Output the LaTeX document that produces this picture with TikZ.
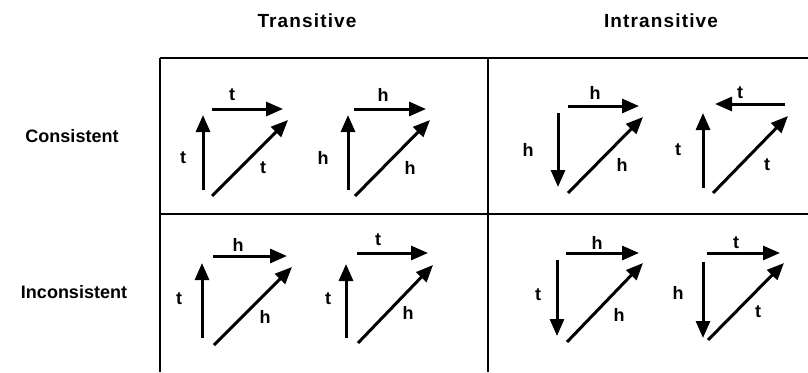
\documentclass[tikz,border=0pt]{standalone}
\usepackage{fontspec}
\setmainfont{Liberation Sans}
\newfontfamily\headfont{Liberation Sans}[LetterSpace=6]
\usetikzlibrary{arrows.meta}
\begin{document}
\begin{tikzpicture}[x=1pt,y=-1pt,
  arr/.style={line width=3pt,-{Triangle[length=17pt,width=14pt]}},
  lbl/.style={font=\bfseries\fontsize{18}{18}\selectfont,inner sep=0pt},
  head/.style={font=\headfont\bfseries\fontsize{19}{19}\selectfont,inner sep=0pt},
  rowlbl/.style={font=\bfseries\fontsize{18}{18}\selectfont,inner sep=0pt},
  gridline/.style={line width=2.3pt}]
\useasboundingbox (0,0) rectangle (808,372);
% table frame
\coordinate (tl) at (160,58);
\coordinate (tr) at (808,58);
\coordinate (ml) at (160,214);
\coordinate (mr) at (808,214);
\coordinate (bl) at (160,372);
\coordinate (tm) at (488,58);
\coordinate (bm) at (488,372);
\draw[gridline] (tl) -- (tr);
\draw[gridline] (ml) -- (mr);
\draw[gridline] (tl) -- (bl);
\draw[gridline] (tm) -- (bm);
% headers
\node[head] (hT) at (307,21) {Transitive};
\node[head] (hI) at (661,21) {Intransitive};
\node[rowlbl] (rC) at (72,136) {Consistent};
\node[rowlbl] (rI) at (74,292) {Inconsistent};
% ---- cell 1, triangle a
\coordinate (a1) at (203,190); \coordinate (a2) at (203,115);
\coordinate (a3) at (212,109); \coordinate (a4) at (283,109);
\coordinate (a5) at (212,196); \coordinate (a6) at (288,120);
\draw[arr] (a1) -- (a2); \draw[arr] (a3) -- (a4); \draw[arr] (a5) -- (a6);
\node[lbl] (la1) at (183,158) {t};
\node[lbl] (la2) at (232,95) {t};
\node[lbl] (la3) at (263,168) {t};
% ---- cell 1, triangle b
\coordinate (b1) at (348,190); \coordinate (b2) at (348,115);
\coordinate (b3) at (354,109); \coordinate (b4) at (426,109);
\coordinate (b5) at (355,196); \coordinate (b6) at (430,120);
\draw[arr] (b1) -- (b2); \draw[arr] (b3) -- (b4); \draw[arr] (b5) -- (b6);
\node[lbl] (lb1) at (323,158) {h};
\node[lbl] (lb2) at (383,95) {h};
\node[lbl] (lb3) at (410,168) {h};
% ---- cell 2, triangle c
\coordinate (c1) at (558,113); \coordinate (c2) at (558,187);
\coordinate (c3) at (568,106); \coordinate (c4) at (639,106);
\coordinate (c5) at (568,193); \coordinate (c6) at (643,117);
\draw[arr] (c1) -- (c2); \draw[arr] (c3) -- (c4); \draw[arr] (c5) -- (c6);
\node[lbl] (lc1) at (528,150) {h};
\node[lbl] (lc2) at (595,93) {h};
\node[lbl] (lc3) at (622,165) {h};
% ---- cell 2, triangle d
\coordinate (d1) at (703,188); \coordinate (d2) at (703,113);
\coordinate (d3) at (785,104); \coordinate (d4) at (715,104);
\coordinate (d5) at (713,193); \coordinate (d6) at (788,116);
\draw[arr] (d1) -- (d2); \draw[arr] (d3) -- (d4); \draw[arr] (d5) -- (d6);
\node[lbl] (ld1) at (678,150) {t};
\node[lbl] (ld2) at (740,93) {t};
\node[lbl] (ld3) at (767,165) {t};
% ---- cell 3, triangle e
\coordinate (e1) at (202,338); \coordinate (e2) at (202,263);
\coordinate (e3) at (213,256); \coordinate (e4) at (287,256);
\coordinate (e5) at (214,345); \coordinate (e6) at (292,267);
\draw[arr] (e1) -- (e2); \draw[arr] (e3) -- (e4); \draw[arr] (e5) -- (e6);
\node[lbl] (le1) at (179,299) {t};
\node[lbl] (le2) at (238,245) {h};
\node[lbl] (le3) at (265,317) {h};
% ---- cell 3, triangle f
\coordinate (f1) at (346,338); \coordinate (f2) at (346,264);
\coordinate (f3) at (357,253); \coordinate (f4) at (428,253);
\coordinate (f5) at (358,343); \coordinate (f6) at (433,265);
\draw[arr] (f1) -- (f2); \draw[arr] (f3) -- (f4); \draw[arr] (f5) -- (f6);
\node[lbl] (lf1) at (328,299) {t};
\node[lbl] (lf2) at (378,240) {t};
\node[lbl] (lf3) at (408,313) {h};
% ---- cell 4, triangle g
\coordinate (g1) at (557,260); \coordinate (g2) at (557,336);
\coordinate (g3) at (566,253); \coordinate (g4) at (639,253);
\coordinate (g5) at (567,342); \coordinate (g6) at (643,263);
\draw[arr] (g1) -- (g2); \draw[arr] (g3) -- (g4); \draw[arr] (g5) -- (g6);
\node[lbl] (lg1) at (538,295) {t};
\node[lbl] (lg2) at (597,243) {h};
\node[lbl] (lg3) at (619,315) {h};
% ---- cell 4, triangle k
\coordinate (k1) at (703,262); \coordinate (k2) at (703,338);
\coordinate (k3) at (707,253); \coordinate (k4) at (780,253);
\coordinate (k5) at (708,340); \coordinate (k6) at (784,263);
\draw[arr] (k1) -- (k2); \draw[arr] (k3) -- (k4); \draw[arr] (k5) -- (k6);
\node[lbl] (lk1) at (678,293) {h};
\node[lbl] (lk2) at (736,243) {t};
\node[lbl] (lk3) at (758,312) {t};
\end{tikzpicture}
\end{document}
